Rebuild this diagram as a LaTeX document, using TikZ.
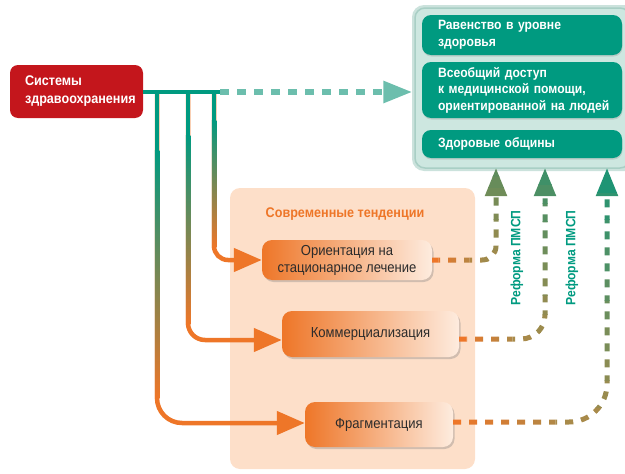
\documentclass[tikz,border=0pt]{standalone}
\usepackage{fontspec}
\setmainfont{Liberation Sans}[FakeStretch=0.9]
\usetikzlibrary{arrows.meta,shadows,calc}
\definecolor{tealC}{HTML}{009A80}
\definecolor{tealL}{HTML}{6CBEAD}
\definecolor{redC}{HTML}{C4161C}
\definecolor{orC}{HTML}{EE7628}
\definecolor{peach}{HTML}{FDDFC9}
\definecolor{oliveC}{HTML}{A88A4A}
\definecolor{greenA}{HTML}{5E8C5C}
\definecolor{greenB}{HTML}{3F9068}
\definecolor{greenD}{HTML}{1E9474}
\definecolor{panelC}{HTML}{CDE7E0}
\definecolor{panelE}{HTML}{A9CFC5}
\definecolor{txt}{HTML}{2B2B2B}
\newcommand\ind{\hspace*{11pt}}
\newcommand\dashret[8]{%
  % #1 start, #2 target, #3 x start, #4 x curve start, #5 y horizontal, #6 y top, #7 top colour, #8 radius
  \foreach \i in {0,...,7}{%
    \pgfmathsetmacro\xa{#3+(#4-#3)*\i/8}%
    \pgfmathsetmacro\xb{#3+(#4-#3)*(\i+1)/8}%
    \pgfmathtruncatemacro\p{100*\i/7}%
    \begin{scope}
      \clip (\xa,#5-12) rectangle (\xb,#5+12);
      \draw[dret, rounded corners=#8pt, draw=oliveC!\p!orC] (#1) -| (#2);
    \end{scope}}%
  \foreach \i in {0,...,9}{%
    \pgfmathsetmacro\ya{#5+12-(#5+12-#6+2)*\i/10}%
    \pgfmathsetmacro\yb{#5+12-(#5+12-#6+2)*(\i+1)/10}%
    \pgfmathtruncatemacro\p{100*\i/9}%
    \begin{scope}
      \clip (#4,\ya) rectangle (#4+2*#8+40,\yb);
      \draw[dret, rounded corners=#8pt, draw=#7!\p!oliveC] (#1) -| (#2);
    \end{scope}}%
}
\begin{document}
\begin{tikzpicture}[x=1pt,y=-1pt,
  redbox/.style={fill=redC, rounded corners=8pt, text=white, align=left,
    font=\bfseries\fontsize{14}{18}\selectfont, text width=103pt, inner xsep=15pt,
    minimum height=53pt},
  tealbox/.style={fill=tealC, rounded corners=9pt, text=white, align=left,
    font=\bfseries\fontsize{13.5}{16.5}\selectfont, text width=190pt, inner xsep=5pt,
    inner ysep=2pt, drop shadow={opacity=0.25, shadow xshift=0.5pt, shadow yshift=-1.5pt}},
  orbox/.style={left color=orC, right color=peach!60!white, rounded corners=10pt,
    text=txt, align=center, font=\fontsize{14.5}{17}\selectfont,
    drop shadow={opacity=0.35, shadow xshift=1.5pt, shadow yshift=-2pt}},
  solidline/.style={line width=4.5pt},
  dret/.style={line width=5pt, dash pattern=on 8pt off 8pt,
    -{Triangle[length=28pt,width=21pt]}},
  reflab/.style={rotate=90, text=tealC, font=\bfseries\fontsize{13.5}{14}\selectfont}]
\useasboundingbox (0,0) rectangle (625,474);

% panels
\fill[panelE!60!white, rounded corners=12pt] (412,5) rectangle (640,171);
\node[fill=panelC, draw=panelE, line width=1.5pt, rounded corners=10pt,
  minimum width=215pt, minimum height=160pt, inner sep=0pt] (panel) at (522.5,88) {};
\node[fill=peach, rounded corners=10pt, minimum width=245pt, minimum height=281pt,
  inner sep=0pt] (trend) at (352.5,328.5) {};

% goal boxes
\node[tealbox, minimum height=40pt] (g1) at (522,35) {\ind Равенство в уровне\\\ind здоровья};
\node[tealbox, minimum height=56pt] (g2) at (522,90) {\ind Всеобщий доступ\\\ind к медицинской помощи,\\\ind ориентированной на людей};
\node[tealbox, minimum height=28pt] (g3) at (522,144) {\ind Здоровые общины};

% source
\node[redbox] (sys) at (76.5,91.5) {Системы\\здравоохранения};

% trends
\node[text=orC, font=\bfseries\fontsize{14}{16}\selectfont] (ttl) at (345,214) {Современные тенденции};
\node[orbox, minimum width=170pt, minimum height=40pt] (o1) at (347,260) {Ориентация на\\стационарное лечение};
\node[orbox, minimum width=177pt, minimum height=46pt] (o2) at (370.5,334) {Коммерциализация};
\node[orbox, minimum width=148pt, minimum height=45pt] (o3) at (379,424.5) {Фрагментация};

% junctions
\coordinate (j0) at (220,92);
\coordinate (jA) at (214,92);
\coordinate (jB) at (188,92);
\coordinate (jC) at (157,92);

% branch connectors
\draw[solidline, orC, rounded corners=14pt, -{Triangle[length=28pt,width=23pt]}]
  (jA) |- (o1.west);
\draw[solidline, orC, rounded corners=17pt, -{Triangle[length=28pt,width=23pt]}]
  (jB) |- ([yshift=-6pt]o2.west);
\draw[solidline, orC, rounded corners=25pt, -{Triangle[length=28pt,width=23pt]}]
  (jC) |- ([yshift=1.5pt]o3.west);
\fill[tealC] (211.75,92) rectangle (216.25,120);
\shade[top color=tealC, bottom color=orC] (211.75,120) rectangle (216.25,247);
\fill[tealC] (185.75,92) rectangle (190.25,135);
\shade[top color=tealC, bottom color=orC] (185.75,135) rectangle (190.25,324);
\fill[tealC] (154.75,92) rectangle (159.25,150);
\shade[top color=tealC, bottom color=orC] (154.75,150) rectangle (159.25,398);

% main line
\draw[solidline, tealC, line width=4pt] (sys.east |- j0) -- (j0);
\draw[tealL, line width=6pt, dash pattern=on 9pt off 8pt,
  -{Triangle[length=29pt,width=21pt]}, shorten >=2pt] (j0) -- (panel.west |- j0);

% reform connectors
\coordinate (t1) at (496,168);
\coordinate (t2) at (545,168);
\coordinate (t3) at (607,168);
\dashret{o1.east}{t1}{432}{482}{260}{168}{greenA}{14}
\dashret{[yshift=-5pt]o2.east}{t2}{459}{520}{339}{168}{greenB}{24}
\dashret{[yshift=2.5pt]o3.east}{t3}{453}{570}{422}{168}{greenD}{38}

\node[reflab] (r1) at (517,258) {Реформа ПМСП};
\node[reflab] (r2) at (572,258) {Реформа ПМСП};
\end{tikzpicture}
\end{document}
